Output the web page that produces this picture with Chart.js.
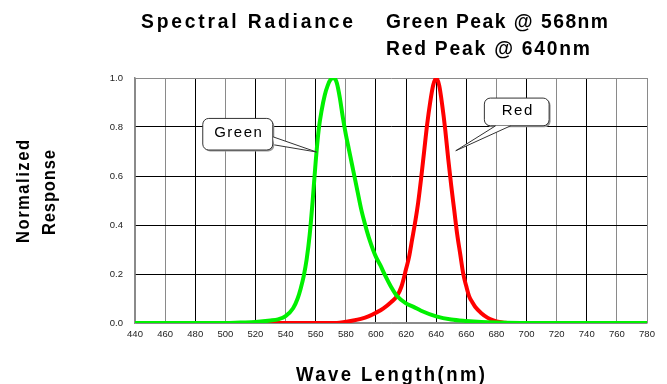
<!DOCTYPE html>
<html>
<head>
<meta charset="utf-8">
<script src="https://cdn.jsdelivr.net/npm/chart.js@4"></script>
<style>
  html, body { margin: 0; padding: 0; background: #fff; }
  #wrap { width: 667px; height: 384px; position: relative; }
</style>
</head>
<body>
<div id="wrap"><canvas id="spectrum"></canvas></div>
<script>
// wavelength (nm) / normalized response
const greenWl  = [440, 500, 510, 520, 530, 535, 540, 545, 548, 550, 552, 554, 556, 558, 560, 562, 564, 566, 568, 570, 572, 574, 576, 578, 580, 582, 584, 586, 588, 590, 592, 594, 596, 598, 600, 603, 606, 610, 614, 620, 625, 630, 640, 650, 660, 670, 680, 700, 780];
const greenVal = [0, 0, 0.002, 0.004, 0.01, 0.015, 0.028, 0.06, 0.1, 0.14, 0.19, 0.26, 0.36, 0.5, 0.66, 0.79, 0.87, 0.93, 0.97, 0.995, 1.0, 0.98, 0.92, 0.84, 0.77, 0.71, 0.65, 0.59, 0.53, 0.47, 0.42, 0.375, 0.335, 0.3, 0.27, 0.235, 0.195, 0.148, 0.11, 0.08, 0.066, 0.05, 0.027, 0.014, 0.008, 0.004, 0.002, 0, 0];

const redWl  = [440, 574, 580, 585, 590, 595, 600, 605, 610, 614, 617, 620, 622, 624, 626, 628, 630, 632, 634, 636, 638, 640, 642, 644, 646, 648, 650, 652, 654, 656, 658, 660, 662, 664, 666, 670, 674, 678, 682, 686, 688];
const redVal = [0, 0, 0.005, 0.01, 0.017, 0.027, 0.042, 0.06, 0.085, 0.11, 0.15, 0.22, 0.27, 0.34, 0.41, 0.49, 0.59, 0.7, 0.81, 0.9, 0.97, 1.0, 0.97, 0.89, 0.79, 0.67, 0.56, 0.46, 0.36, 0.28, 0.2, 0.15, 0.107, 0.085, 0.065, 0.04, 0.022, 0.011, 0.004, 0.001, 0];

const xMin = 440, xMax = 780, xStep = 20;
const yTicks = [0, 0.2, 0.4, 0.6, 0.8, 1.0];

const titleLeft = 'Spectral Radiance';
const titleRight = ['Green Peak @ 568nm', 'Red Peak @ 640nm'];
const yTitle = ['Normalized', 'Response'];
const xTitle = 'Wave Length(nm)';

// callouts: label, box corners and tail points in data units
const callouts = [
  { text: 'Green', box: [485, 0.835, 531.5, 0.706], tail: [[531.6, 0.760], [532.5, 0.727], [560.5, 0.698]] },
  { text: 'Red', box: [672, 0.918, 715, 0.805], tail: [[679.5, 0.805], [689.5, 0.805], [653, 0.703]] }
];

// grey lines in the grid (the rest are black)
const greyX = [440, 460, 500, 540, 580, 680, 720, 760, 780];

const toXY = (xs, ys) => xs.map((x, i) => ({ x: x, y: ys[i] }));

const FONT = '"Liberation Sans", Arial, sans-serif';

// condensed bold text stretched by letter spacing to a given width
function wideText(ctx, text, x, y, size, width, sx) {
  ctx.save();
  ctx.font = 'bold ' + size + 'px ' + FONT;
  ctx.letterSpacing = '0px';
  const natural = ctx.measureText(text).width;
  const gap = (width / sx - natural) / (text.length - 1);
  ctx.letterSpacing = gap + 'px';
  ctx.translate(x, y);
  ctx.scale(sx, 1);
  ctx.textAlign = 'left';
  ctx.fillText(text, 0, 0);
  ctx.restore();
}

const textPlugin = {
  id: 'texts',
  afterDraw(chart) {
    const ctx = chart.ctx;
    ctx.save();
    ctx.fillStyle = '#000';
    ctx.textBaseline = 'alphabetic';
    wideText(ctx, titleLeft, 141, 28, 20.5, 212, 0.94);
    wideText(ctx, titleRight[0], 386, 28, 20.5, 222, 0.94);
    wideText(ctx, titleRight[1], 386, 55, 20.5, 204, 0.94);
    wideText(ctx, xTitle, 296, 381, 19.5, 189, 0.95);
    ctx.save();
    ctx.translate(29, 243);
    ctx.rotate(-Math.PI / 2);
    wideText(ctx, yTitle[0], 0, 0, 18, 103, 0.92);
    ctx.restore();
    ctx.save();
    ctx.translate(55, 235);
    ctx.rotate(-Math.PI / 2);
    wideText(ctx, yTitle[1], 0, 0, 18, 85, 0.92);
    ctx.restore();
    ctx.restore();
  }
};

const calloutPlugin = {
  id: 'callouts',
  afterDatasetsDraw(chart) {
    const ctx = chart.ctx;
    const sx = chart.scales.x, sy = chart.scales.y;
    callouts.forEach(c => {
      const x0 = sx.getPixelForValue(c.box[0]), y0 = sy.getPixelForValue(c.box[1]);
      const x1 = sx.getPixelForValue(c.box[2]), y1 = sy.getPixelForValue(c.box[3]);
      const t = c.tail.map(p => [sx.getPixelForValue(p[0]), sy.getPixelForValue(p[1])]);
      ctx.save();
      // shadow
      ctx.fillStyle = '#9a9a9a';
      ctx.beginPath();
      ctx.roundRect(x0 + 1.5, y0 + 1.5, x1 - x0, y1 - y0, 6);
      ctx.fill();
      ctx.fillStyle = '#fff';
      ctx.strokeStyle = '#333';
      ctx.lineWidth = 1;
      ctx.beginPath();
      ctx.roundRect(x0, y0, x1 - x0, y1 - y0, 6);
      ctx.fill();
      ctx.stroke();
      // tail
      ctx.beginPath();
      ctx.moveTo(t[0][0], t[0][1]);
      ctx.lineTo(t[2][0], t[2][1]);
      ctx.lineTo(t[1][0], t[1][1]);
      ctx.closePath();
      ctx.fillStyle = '#fff';
      ctx.fill();
      ctx.beginPath();
      ctx.moveTo(t[0][0], t[0][1]);
      ctx.lineTo(t[2][0], t[2][1]);
      ctx.lineTo(t[1][0], t[1][1]);
      ctx.stroke();
      ctx.fillStyle = '#000';
      ctx.font = '15px ' + FONT;
      ctx.letterSpacing = '1.5px';
      ctx.textAlign = 'center';
      ctx.textBaseline = 'middle';
      ctx.fillText(c.text, (x0 + x1) / 2 + 1, (y0 + y1) / 2 - 1);
      ctx.restore();
    });
  }
};

new Chart(document.getElementById('spectrum'), {
  type: 'line',
  data: {
    datasets: [
      {
        label: 'Green',
        data: toXY(greenWl, greenVal),
        borderColor: '#00f000',
        borderWidth: 4,
        pointRadius: 0,
        cubicInterpolationMode: 'monotone',
        fill: false
      },
      {
        label: 'Red',
        data: toXY(redWl, redVal),
        borderColor: '#ff0000',
        borderWidth: 4,
        pointRadius: 0,
        cubicInterpolationMode: 'monotone',
        fill: false
      }
    ]
  },
  options: {
    responsive: true,
    maintainAspectRatio: false,
    animation: false,
    layout: { padding: { left: 0, top: 78, right: 20, bottom: 0 } },
    plugins: {
      legend: { display: false },
      tooltip: { enabled: false }
    },
    scales: {
      x: {
        type: 'linear',
        min: xMin,
        max: xMax,
        afterFit: scale => { scale.height = 61; },
        ticks: {
          stepSize: xStep,
          autoSkip: false,
          maxRotation: 0,
          padding: 6,
          color: '#222',
          font: { size: 9.5, family: FONT }
        },
        grid: {
          drawTicks: false,
          lineWidth: 1,
          color: ctx => greyX.includes(ctx.tick && ctx.tick.value) ? '#8a8a8a' : '#000'
        },
        border: { color: '#8a8a8a', width: 1.5 }
      },
      y: {
        min: 0,
        max: 1,
        afterFit: scale => { scale.width = 135; },
        afterBuildTicks: scale => { scale.ticks = yTicks.map(v => ({ value: v })); },
        ticks: {
          padding: 12,
          color: '#222',
          font: { size: 9.5, family: FONT },
          callback: v => v.toFixed(1)
        },
        grid: {
          drawTicks: false,
          lineWidth: 1,
          color: ctx => (ctx.tick && (ctx.tick.value === 1 || ctx.tick.value === 0)) ? '#8a8a8a' : '#000'
        },
        border: { color: '#8a8a8a', width: 1.5 }
      }
    }
  },
  plugins: [calloutPlugin, textPlugin]
});
</script>
</body>
</html>
